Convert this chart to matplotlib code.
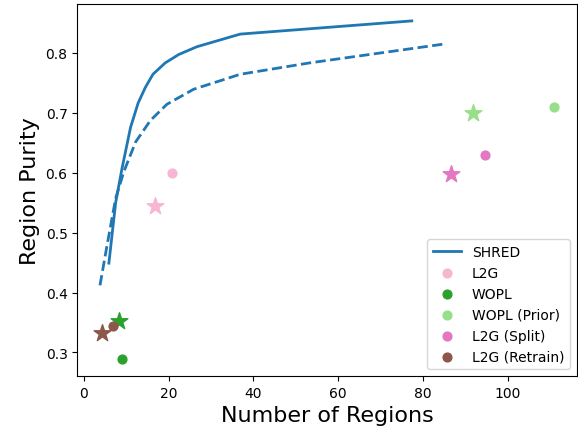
import matplotlib
matplotlib.use("Agg")
import matplotlib.pyplot as plt

# ==========================================================
# Data
# ==========================================================

shred_x = [5.9, 7.5, 9.0, 11.0, 12.8, 14.5, 16.3, 19.2, 22.4, 26.7, 36.9, 77.4]
shred_y = [0.449, 0.55, 0.607, 0.675, 0.716, 0.742, 0.764, 0.783, 0.797, 0.810, 0.831, 0.853]

shred2_x = [3.8, 5.5, 7.5, 9.4, 12.2, 15.7, 19.6, 25.9, 36.9, 53.3, 85.6]
shred2_y = [0.412, 0.48, 0.557, 0.601, 0.651, 0.687, 0.714, 0.739, 0.764, 0.783, 0.815]

methods = ["L2G", "WOPL", "WOPL (Prior)", "L2G (Split)", "L2G (Retrain)"]
colors = ["#f7b6d2", "#2ca02c", "#98df8a", "#e377c2", "#8c564b"]

# circle markers
circ_x = [20.9, 9.0, 111.0, 94.7, 6.8]
circ_y = [0.600, 0.289, 0.709, 0.630, 0.344]

# star markers
star_x = [16.9, 8.2, 91.9, 86.7, 4.2]
star_y = [0.545, 0.353, 0.700, 0.597, 0.333]

# ==========================================================
# Plot
# ==========================================================

fig = plt.figure(figsize=(5.78, 4.31), dpi=100)
ax = fig.add_axes([0.1337, 0.1253, 0.8643, 0.8631])

ax.plot(shred_x, shred_y, color="#1f77b4", linewidth=2, label="SHRED")
ax.plot(shred2_x, shred2_y, color="#1f77b4", linewidth=2, linestyle="--")

for i in range(len(methods)):
    ax.scatter(circ_x[i], circ_y[i], color=colors[i], s=40, label=methods[i])
    ax.scatter(star_x[i], star_y[i], color=colors[i], s=160, marker="*")

ax.set_xlabel("Number of Regions", fontsize=16)
ax.set_ylabel("Region Purity", fontsize=16)

ax.legend(loc="lower right")

fig.savefig("out.png", dpi=100)
